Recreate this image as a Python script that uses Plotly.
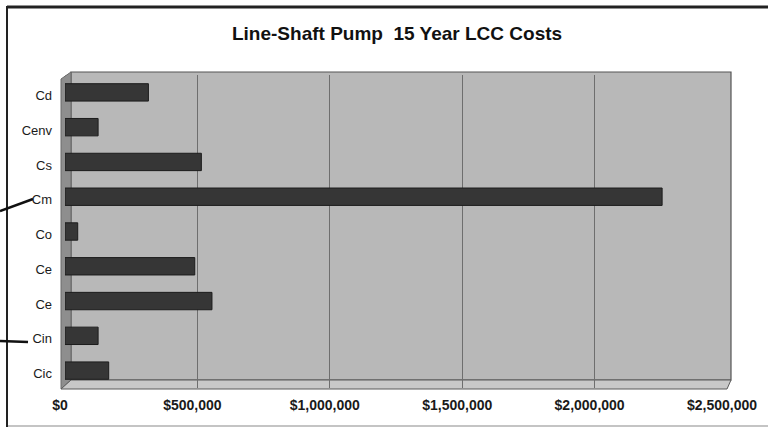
import plotly.graph_objects as go

# categories top -> bottom (as in the chart), Ce occurs twice
kategorie = ["Cd", "Cenv", "Cs", "Cm", "Co", "Ce", "Ce", "Cin", "Cic"]
koszty = [315000, 125000, 515000, 2255000, 48000, 490000, 555000, 125000, 165000]
ticki_x = [0, 500000, 1000000, 1500000, 2000000, 2500000]
etykiety_x = ["$0", "$500,000", "$1,000,000", "$1,500,000", "$2,000,000", "$2,500,000"]

W, H = 768, 429
L, R, T, B = 65, 41, 75, 41
PW, PH = W - L - R, H - T - B
SZARY = "#b8b8b8"


def px(x):
    return (x - L) / PW


def py(y):
    return (H - B - y) / PH


pozycje = list(range(len(kategorie)))

fig = go.Figure()
fig.add_trace(go.Bar(
    x=koszty, y=pozycje, orientation="h", width=0.5,
    marker=dict(color="#363636", line=dict(color="#1c1c1c", width=1)),
    hovertemplate="%{x:$,.0f}<extra></extra>",
))

ksztalty = [
    # back wall (a bit wider than the plot area, like the 3D box)
    dict(type="rect", xref="paper", yref="paper", layer="below",
         x0=px(71), x1=px(731), y0=py(380), y1=py(72),
         fillcolor=SZARY, line=dict(color="#555555", width=1.2)),
    # left side wall of the 3D box
    dict(type="path", xref="paper", yref="paper", layer="below",
         path=f"M {px(61)},{py(79)} L {px(71)},{py(72)} L {px(71)},{py(380)} L {px(61)},{py(389)} Z",
         fillcolor="#8e8e8e", line=dict(color="#6a6a6a", width=1)),
    # floor
    dict(type="path", xref="paper", yref="paper", layer="below",
         path=f"M {px(71)},{py(380)} L {px(731)},{py(380)} L {px(727)},{py(389)} L {px(61)},{py(389)} Z",
         fillcolor="#c8c8c8", line=dict(color="#5a5a5a", width=1)),
    # outer frame of the scanned chart
    dict(type="line", xref="paper", yref="paper",
         x0=px(7), x1=px(768), y0=py(7), y1=py(7),
         line=dict(color="#222222", width=3)),
    dict(type="line", xref="paper", yref="paper",
         x0=px(7), x1=px(7), y0=py(6), y1=py(427),
         line=dict(color="#222222", width=2)),
    dict(type="line", xref="paper", yref="paper",
         x0=px(8), x1=px(768), y0=py(426), y1=py(426),
         line=dict(color="#c4c4c4", width=2)),
    # leader lines at the left
    dict(type="line", xref="paper", yref="paper",
         x0=px(0), x1=px(33), y0=py(211), y1=py(199),
         line=dict(color="#111111", width=2.5)),
    dict(type="line", xref="paper", yref="paper",
         x0=px(0), x1=px(28), y0=py(341), y1=py(342),
         line=dict(color="#111111", width=2.5)),
]

fig.update_layout(
    width=W, height=H,
    margin=dict(l=L, r=R, t=T, b=B),
    paper_bgcolor="white", plot_bgcolor=SZARY,
    font=dict(family="Liberation Sans, Arial, sans-serif", color="#1a1a1a"),
    title=dict(text="<b>Line-Shaft Pump\u00a0 15 Year LCC Costs</b>",
               x=0.517, xanchor="center", y=1 - 33 / H, yanchor="middle",
               font=dict(size=19, color="#111111")),
    showlegend=False, bargap=0.5,
    shapes=ksztalty,
)
fig.update_xaxes(
    range=[0, 2500000], tickvals=ticki_x, ticktext=[f"<b>{t}</b>" for t in etykiety_x],
    showgrid=True, gridcolor="#6e6e6e", gridwidth=1, zeroline=False,
    ticks="", ticklabelstandoff=7, ticklabelshift=-5,
    tickfont=dict(size=14, color="#1a1a1a"),
)
fig.update_yaxes(
    range=[len(kategorie) - 0.5, -0.5], tickvals=pozycje, ticktext=kategorie,
    showgrid=False, zeroline=False, ticks="", ticklabelstandoff=12,
    ticklabelshift=-3,
    tickfont=dict(size=13, color="#1a1a1a"),
)

# strona ma domyslny margines body 8px - zdejmujemy go, zeby wykres siedzial w rogu
fig.write_html("out.html", config={"displayModeBar": False},
               post_script="document.body.style.margin='0';")
